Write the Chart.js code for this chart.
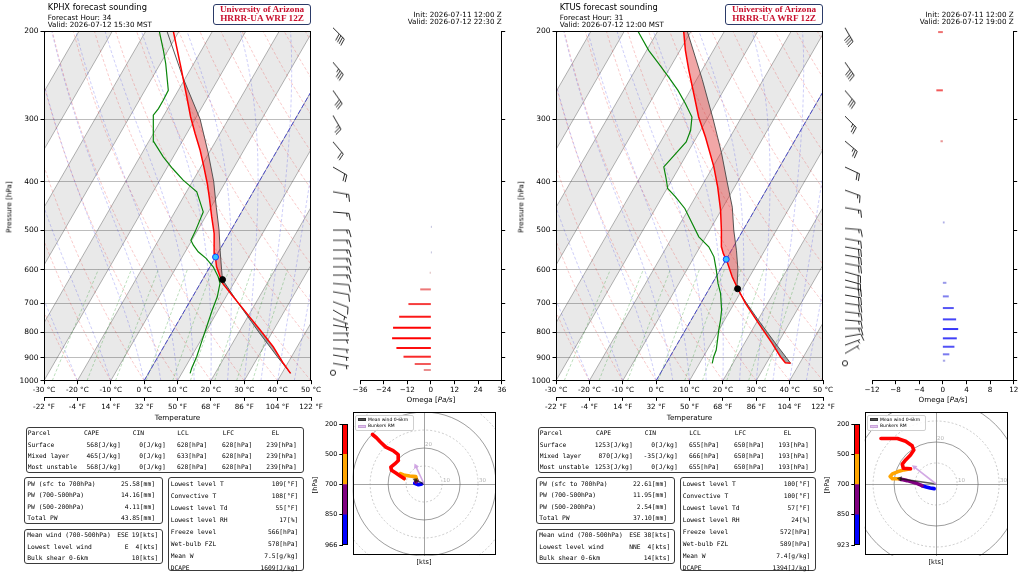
<!DOCTYPE html>
<html>
<head>
<meta charset="utf-8">
<title>HRRR-UA forecast soundings KPHX / KTUS</title>
<script src="https://cdn.jsdelivr.net/npm/chart.js@4.4.1/dist/chart.umd.min.js"></script>
<style>
  body { margin: 0; width: 1024px; height: 572px; overflow: hidden; position: relative; background: #fff; font-family: "DejaVu Sans", sans-serif; }
  canvas { position: absolute; }
  .t { position: absolute; white-space: pre; line-height: 1; color: #000; }
  .box { position: absolute; box-sizing: border-box; border: 1.2px solid #3a3a3a; border-radius: 3px; }
</style>
</head>
<body>
<script>
// shared axis values
const SKEW = 37.6; // lean of the isotherms, degC per ln(1000/p)
const pressureTicks = [200, 300, 400, 500, 600, 700, 800, 900, 1000];
const tempTicksC = [-30, -20, -10, 0, 10, 20, 30, 40, 50];
const hodoRings = [10, 20, 30, 40, 50];
const parcelHeader = ['CAPE', 'CIN', 'LCL', 'LFC', 'EL'];

// ---------- KPHX ----------
const phxHeader = ['KPHX forecast sounding', 'Forecast Hour: 34', 'Valid: 2026-07-12 15:30 MST', 'Init: 2026-07-11 12:00 Z', 'Valid: 2026-07-12 22:30 Z'];
const phxTempP = [966.6, 923.1, 855.3, 792.1, 733.5, 679.7, 639, 619.9, 592.1, 556.7, 507.8, 470.5, 429.1, 403.5, 373.8, 346.2, 320.6, 297.1, 271, 239.7, 200.3];
const phxTempC = [42.6, 38.7, 32.8, 26.0, 19.1, 12.2, 6.7, 4.8, 2.0, -0.8, -4.5, -8.1, -12.3, -15.2, -19.1, -23.1, -27.5, -31.7, -36.3, -42.5, -51.7];
const phxDewP = [966.6, 944.6, 895.5, 842, 780.1, 722.5, 679.7, 639, 619.9, 592.1, 569.6, 552.6, 535.9, 523.7, 504.1, 481.4, 459.8, 439.1, 419.4, 397.4, 376.6, 357, 333.3, 301.6, 294.7, 285.8, 275.1, 262.8, 232.4, 218.6, 200.3];
const phxDewC = [12.5, 12.1, 11.6, 10.6, 9.4, 8.2, 7.4, 5.9, 4.2, 1.0, -2.6, -6.1, -8.7, -10.3, -10.5, -11.0, -11.5, -14.2, -16.9, -23.0, -28.2, -33.0, -38.4, -42.3, -43.2, -42.8, -42.8, -43.0, -48.4, -51.4, -55.9];
const phxParcelP = [966.6, 900, 800, 700, 628, 600, 550, 500, 450, 400, 350, 300, 248.7, 200];
const phxParcelC = [42.6, 36.2, 26.0, 14.8, 6.0, 4.0, 0.3, -3.6, -8.4, -13.6, -20.3, -28.5, -40.6, -53.7];
const phxLcl = [628, 6.0];      // hPa, degC
const phxFrz = [566, 0];
const phxCapeTop = 248.7;
const phxWindP = [197, 231, 263, 295, 333, 374, 419, 460, 500, 524, 548, 570, 592, 615, 639, 664, 695, 722, 751, 774, 804, 829, 862, 888, 923, 964];
const phxWindDir = [135, 140, 145, 150, 140, 120, 100, 95, 90, 90, 90, 90, 90, 90, 95, 100, 110, 120, 110, 100, 90, 90, 95, 100, 100, 90];
const phxWindKt = [40, 35, 30, 25, 20, 20, 15, 15, 15, 15, 15, 15, 15, 15, 10, 10, 10, 5, 5, 5, 5, 5, 5, 5, 5, 0];
const phxOmegaP = [492.6, 554.1, 608.6, 656.9, 702.8, 745.0, 783.7, 822.9, 860.4, 895.5, 926.1, 952.0];
const phxOmega = [0.6, 0.6, -0.6, -5.4, -11.4, -16.1, -19.2, -19.7, -17.5, -13.9, -8.2, -3.6];
const phxOmegaTicks = [-36, -24, -12, 0, 12, 24, 36];
const phxHodoLim = 39.7;
const phxHodoBlue = [[-1.3, 0], [-3.1, -0.4], [-5.2, 0.4], [-4.6, 1.1]];
const phxHodoPurple = [[-4.6, 1.1], [-3.9, 1.9], [-4.3, 2.6]];
const phxHodoOrange = [[-4.3, 2.6], [-4.6, 4.1], [-8.0, 4.4], [-10.7, 4.8], [-13.1, 5.7], [-12.4, 4.4], [-11.1, 3.0]];
const phxHodoRed = [[-11.1, 3.0], [-13.5, 4.6], [-15.7, 6.1], [-18.1, 7.6], [-18.5, 9.3], [-16.3, 11.1], [-14.3, 13.0], [-14.4, 16.3], [-17.2, 18.5], [-21.3, 20.4], [-24.3, 23.3], [-26.5, 25.6], [-28.7, 27.4]];
const phxMeanWind = [-4.8, 2.2];
const phxBunkersRM = [-4.6, 9.8];
const phxBarLabels = [966, 850, 700, 500, 200];
const phxParcelRows = [
  ['Surface', '568[J/kg]', '0[J/kg]', '628[hPa]', '628[hPa]', '239[hPa]'],
  ['Mixed layer', '465[J/kg]', '0[J/kg]', '633[hPa]', '628[hPa]', '239[hPa]'],
  ['Most unstable', '568[J/kg]', '0[J/kg]', '628[hPa]', '628[hPa]', '239[hPa]']];
const phxPwRows = [['PW (sfc to 700hPa)', '25.58[mm]'], ['PW (700-500hPa)', '14.16[mm]'], ['PW (500-200hPa)', '4.11[mm]'], ['Total PW', '43.85[mm]']];
const phxWindRows = [['Mean wind (700-500hPa)', 'ESE', '19[kts]'], ['Lowest level wind', 'E', '4[kts]'], ['Bulk shear 0-6km', '', '10[kts]']];
const phxThermoRows = [['Lowest level T', '109[°F]'], ['Convective T', '108[°F]'], ['Lowest level Td', '55[°F]'], ['Lowest level RH', '17[%]'],
  ['Freeze level', '566[hPa]'], ['Wet-bulb FZL', '578[hPa]'], ['Mean W', '7.5[g/kg]'], ['DCAPE', '1609[J/kg]']];

// ---------- KTUS ----------
const tusHeader = ['KTUS forecast sounding', 'Forecast Hour: 31', 'Valid: 2026-07-12 12:00 MST', 'Init: 2026-07-11 12:00 Z', 'Valid: 2026-07-12 19:00 Z'];
const tusTempP = [923.1, 920.6, 895.5, 842, 768.1, 700.5, 655.1, 619.9, 578.6, 556.7, 540, 500.1, 456.2, 409.8, 373.8, 325.7, 297.1, 266.8, 239.7, 218.6, 200.3];
const tusTempC = [37.3, 35.6, 33.1, 28.3, 20.8, 13.4, 8.6, 4.8, 0.7, -1.9, -3.6, -6.5, -10.2, -15.1, -19.7, -27.4, -32.9, -38.4, -43.9, -48.4, -52.2];
const tusDewP = [923.1, 895.5, 868.3, 842, 792.1, 756.5, 722.5, 669.1, 639, 601.1, 565.5, 540, 515.8, 484.9, 452.7, 429.1, 412.9, 394.3, 373.8, 333.3, 315.8, 297.1, 279.3, 262.8, 247.2, 232.4, 218.6, 200.3];
const tusDewC = [13.8, 13.1, 12.7, 11.8, 10.0, 8.8, 7.4, 4.2, 1.7, -1.1, -4.1, -7.4, -12.1, -16.4, -21.2, -26.0, -29.8, -32.0, -34.7, -32.3, -33.0, -34.9, -39.2, -43.7, -48.8, -54.1, -59.4, -65.9];
const tusParcelP = [923.1, 900, 850, 800, 750, 700, 655, 600, 550, 500, 450, 400, 350, 300, 250, 200];
const tusParcelC = [37.3, 35.1, 30.1, 24.9, 19.4, 13.7, 8.3, 5.3, 1.6, -2.8, -7.2, -13.2, -19.9, -28.2, -38.3, -51.2];
const tusLcl = [655, 8.5];
const tusFrz = [572, 0];
const tusCapeTop = 200;
const tusWindP = [197, 231, 263, 296, 332, 374, 416, 451, 496, 520, 540, 561, 583, 606, 629, 649, 674, 700, 728, 756, 786, 817, 849, 882, 923];
const tusWindDir = [150, 145, 140, 135, 130, 115, 110, 100, 95, 100, 100, 100, 100, 105, 105, 100, 100, 98, 97, 95, 90, 80, 70, 60, 25];
const tusWindKt = [40, 40, 30, 25, 25, 20, 15, 15, 15, 15, 20, 20, 20, 20, 20, 20, 20, 20, 15, 15, 15, 10, 5, 5, 0];
const tusOmegaP = [201, 262.8, 332.2, 482.7, 637.3, 678.4, 715.8, 754.1, 788.4, 822.9, 855.3, 885.7, 912.1];
const tusOmega = [-0.8, -1.1, -0.4, 0.3, 0.6, 1.0, 1.85, 2.25, 2.6, 2.36, 1.96, 1.1, 0.4];
const tusOmegaTicks = [-12, -8, -4, 0, 4, 8, 12];
const tusHodoLim = 34.0;
const tusHodoBlue = [[-0.9, -2.2], [-2.8, -1.9], [-4.7, -1.4], [-6.7, -0.8]];
const tusHodoPurple = [[-6.7, -0.8], [-9.8, 0.5], [-13.75, 1.6], [-17.7, 2.5]];
const tusHodoOrange = [[-17.7, 2.5], [-20.8, 2.5], [-21.9, 3.6], [-20.8, 4.8], [-18.1, 5.9], [-15.3, 6.7], [-12.2, 7.2]];
const tusHodoRed = [[-12.2, 7.2], [-15.6, 7.5], [-16.1, 9.4], [-14.5, 11.4], [-12.2, 13.75], [-10.6, 16.1], [-11.4, 18.1], [-14.5, 20.3], [-18.4, 21.6], [-26.25, 21.6]];
const tusMeanWind = [-17.2, 2.5];
const tusBunkersRM = [-10.3, 8.0];
const tusBarLabels = [923, 850, 700, 500, 200];
const tusParcelRows = [
  ['Surface', '1253[J/kg]', '0[J/kg]', '655[hPa]', '650[hPa]', '193[hPa]'],
  ['Mixed layer', '870[J/kg]', '-35[J/kg]', '666[hPa]', '650[hPa]', '193[hPa]'],
  ['Most unstable', '1253[J/kg]', '0[J/kg]', '655[hPa]', '650[hPa]', '193[hPa]']];
const tusPwRows = [['PW (sfc to 700hPa)', '22.61[mm]'], ['PW (700-500hPa)', '11.95[mm]'], ['PW (500-200hPa)', '2.54[mm]'], ['Total PW', '37.10[mm]']];
const tusWindRows = [['Mean wind (700-500hPa)', 'ESE', '38[kts]'], ['Lowest level wind', 'NNE', '4[kts]'], ['Bulk shear 0-6km', '', '14[kts]']];
const tusThermoRows = [['Lowest level T', '100[°F]'], ['Convective T', '100[°F]'], ['Lowest level Td', '57[°F]'], ['Lowest level RH', '24[%]'],
  ['Freeze level', '572[hPa]'], ['Wet-bulb FZL', '589[hPa]'], ['Mean W', '7.4[g/kg]'], ['DCAPE', '1394[J/kg]']];

const stations = [
  { off: 0, header: phxHeader, tempP: phxTempP, tempC: phxTempC, dewP: phxDewP, dewC: phxDewC, parcelP: phxParcelP, parcelC: phxParcelC,
    lcl: phxLcl, frz: phxFrz, capeTop: phxCapeTop, windP: phxWindP, windDir: phxWindDir, windKt: phxWindKt,
    omegaP: phxOmegaP, omega: phxOmega, omegaTicks: phxOmegaTicks, hodoLim: phxHodoLim,
    hodo: [phxHodoBlue, phxHodoPurple, phxHodoOrange, phxHodoRed], meanWind: phxMeanWind, bunkers: phxBunkersRM, barLabels: phxBarLabels,
    parcelRows: phxParcelRows, pwRows: phxPwRows, windRows: phxWindRows, thermoRows: phxThermoRows },
  { off: 512, header: tusHeader, tempP: tusTempP, tempC: tusTempC, dewP: tusDewP, dewC: tusDewC, parcelP: tusParcelP, parcelC: tusParcelC,
    lcl: tusLcl, frz: tusFrz, capeTop: tusCapeTop, windP: tusWindP, windDir: tusWindDir, windKt: tusWindKt,
    omegaP: tusOmegaP, omega: tusOmega, omegaTicks: tusOmegaTicks, hodoLim: tusHodoLim,
    hodo: [tusHodoBlue, tusHodoPurple, tusHodoOrange, tusHodoRed], meanWind: tusMeanWind, bunkers: tusBunkersRM, barLabels: tusBarLabels,
    parcelRows: tusParcelRows, pwRows: tusPwRows, windRows: tusWindRows, thermoRows: tusThermoRows }
];

Chart.defaults.font.family = '"DejaVu Sans", sans-serif';
Chart.defaults.font.size = 7.2;
Chart.defaults.color = '#000';
Chart.defaults.animation = false;
Chart.defaults.events = [];
Chart.defaults.plugins.legend.display = false;
Chart.defaults.plugins.tooltip.enabled = false;

function mkCanvas(x, y, w, h) {
  const c = document.createElement('canvas');
  c.width = w; c.height = h;
  c.style.left = x + 'px'; c.style.top = y + 'px';
  c.style.width = w + 'px'; c.style.height = h + 'px';
  document.body.appendChild(c);
  return c;
}

function txt(x, y, s, o = {}) {
  const d = document.createElement('div');
  d.className = 't';
  if (o.html) d.innerHTML = s; else d.textContent = s;
  d.style.left = x + 'px'; d.style.top = y + 'px';
  d.style.fontSize = (o.size || 7.2) + 'px';
  if (o.font) d.style.fontFamily = o.font;
  if (o.color) d.style.color = o.color;
  if (o.weight) d.style.fontWeight = o.weight;
  const ax = o.align === 'right' ? '-100%' : o.align === 'center' ? '-50%' : '0';
  d.style.transform = `translate(${ax},-50%)` + (o.rot ? ` rotate(${o.rot}deg)` : '');
  document.body.appendChild(d);
  return d;
}
const mono = (x, y, s, align) => txt(x, y, s, { size: 6.3, font: '"DejaVu Sans Mono", monospace', align });

function box(x, y, w, h, extra) {
  const d = document.createElement('div');
  d.className = 'box';
  Object.assign(d.style, { left: x + 'px', top: y + 'px', width: w + 'px', height: h + 'px' }, extra || {});
  document.body.appendChild(d);
  return d;
}

// plot frame around the chart area
const framePlugin = {
  id: 'frame',
  afterDraw(c) {
    const a = c.chartArea, g = c.ctx;
    g.save(); g.strokeStyle = '#000'; g.lineWidth = 1;
    g.strokeRect(Math.round(a.left) + 0.5, Math.round(a.top) + 0.5, Math.round(a.width) - 1, Math.round(a.height) - 1);
    g.restore();
  }
};

// skew-T helpers
function sk(t, p) { return { x: t + SKEW * Math.log(1000 / p), y: p }; }
function profile(ps, ts) { return ps.map((p, i) => sk(ts[i], p)); }

// background reference lines of the diagram
function dryAdiabat(t0) {
  const pts = [];
  for (let p = 1000; p >= 200; p -= 25) pts.push(sk((t0 + 273.15) * Math.pow(p / 1000, 0.2857) - 273.15, p));
  return pts;
}
function moistLapse(T, p) {
  const Rd = 287.04, Cp = 1005.7, Lv = 2.501e6, eps = 0.622;
  const tc = T - 273.15, es = 6.112 * Math.exp(17.67 * tc / (tc + 243.5)), rs = eps * es / (p - es);
  return (1 / p) * (Rd * T + Lv * rs) / (Cp + Lv * Lv * rs * eps / (Rd * T * T));
}
function moistAdiabat(t0) {
  const pts = [];
  let T = t0 + 273.15;
  for (let p = 1000; p >= 200; p -= 5) {
    if (p % 10 === 0) pts.push(sk(T - 273.15, p));
    const k1 = moistLapse(T, p);
    const k2 = moistLapse(T - k1 * 2.5, p - 2.5);
    T -= k2 * 5;
  }
  return pts;
}
function mixingLine(w) {
  return [1000, 900, 800, 700, 600].map(p => {
    const e = p * w / (622 + w), l = Math.log(e / 6.112);
    return sk(243.5 * l / (17.67 - l), p);
  });
}
function areaPolygon(pp, pt, ep, et, pBot, pTop) {
  const up = [], down = [];
  pp.forEach((p, i) => { if (p <= pBot && p >= pTop) up.push(sk(pt[i], p)); });
  ep.forEach((p, i) => { if (p < pBot && p > pTop) down.push(sk(et[i], p)); });
  return up.concat(down.reverse());
}

const line = (pts, color, w, dash, order) => ({ data: pts, showLine: true, borderColor: color, borderWidth: w, borderDash: dash,
  pointRadius: 0, fill: false, order, clip: 0 });
const shape = (pts, color, order) => ({ data: pts, showLine: true, fill: 'shape', backgroundColor: color, borderWidth: 0,
  borderColor: 'rgba(0,0,0,0)', pointRadius: 0, order, clip: 0 });

function skewChart(st) {
  const cv = mkCanvas(st.off, 0, 330, 420);
  const ds = [];
  // shaded bands between every other pair of isotherms (0..10 degC is shaded)
  for (let t = -120; t <= 40; t += 20) ds.push(shape([sk(t, 1000), sk(t, 200), sk(t + 10, 200), sk(t + 10, 1000)], 'rgba(0,0,0,0.085)', 50));
  for (let t = -110; t <= 60; t += 10) ds.push(line([sk(t, 1000), sk(t, 200)], 'rgba(80,80,80,0.55)', 0.8, [], 45));
  for (let t = -40; t <= 160; t += 10) ds.push(line(dryAdiabat(t), 'rgba(230,40,40,0.35)', 0.7, [3, 2], 44));
  [-30, -20, -10, 0, 5, 10, 15, 20, 25, 30, 35, 40, 45, 50, 55, 60].forEach(t => ds.push(line(moistAdiabat(t), 'rgba(40,40,230,0.33)', 0.7, [3, 2], 43)));
  [0.4, 1, 2, 4, 7, 10, 16, 24, 32].forEach(w => ds.push(line(mixingLine(w), 'rgba(20,140,20,0.4)', 0.7, [3, 2], 42)));
  ds.push(line([sk(0, 1000), sk(0, 200)], 'rgba(40,40,210,0.75)', 1, [5, 2], 41));
  ds.push(shape(areaPolygon(st.parcelP, st.parcelC, st.tempP, st.tempC, st.lcl[0], st.capeTop), 'rgba(225,60,60,0.45)', 11));
  ds.push(shape(areaPolygon(st.parcelP, st.parcelC, st.tempP, st.tempC, st.parcelP[0], st.lcl[0]), 'rgba(80,80,80,0.5)', 12));
  ds.push(line(profile(st.parcelP, st.parcelC), 'rgba(70,70,70,0.9)', 1, [], 5));
  ds.push(line(profile(st.dewP, st.dewC), '#0a860a', 1.2, [], 4));
  ds.push(line(profile(st.tempP, st.tempC), '#ff0000', 1.5, [], 3));
  ds.push({ data: [sk(st.lcl[1], st.lcl[0])], pointRadius: 3, pointBackgroundColor: '#000', pointBorderColor: '#000', order: 1, clip: false });
  ds.push({ data: [sk(st.frz[1], st.frz[0])], pointRadius: 3, pointBackgroundColor: '#2fc4ff', pointBorderColor: '#1c3cff',
    pointBorderWidth: 1, order: 0, clip: false });

  const tickSet = s => { s.ticks = tempTicksC.map(v => ({ value: v })); };
  new Chart(cv, {
    type: 'scatter',
    data: { datasets: ds },
    options: {
      responsive: false,
      layout: { padding: { left: 0, top: 31, right: 19, bottom: 0 } },
      scales: {
        x: { type: 'linear', min: -30, max: 50, weight: 0, afterBuildTicks: tickSet,
          ticks: { callback: v => v + ' °C', maxRotation: 0, autoSkip: false, padding: 1.5 },
          grid: { drawOnChartArea: false, tickLength: 3.5, color: '#000' }, border: { color: '#000' },
          afterFit: s => { s.height = 16.6; } },
        xF: { type: 'linear', position: 'bottom', min: -30, max: 50, weight: 1, afterBuildTicks: tickSet,
          ticks: { callback: v => Math.round(v * 1.8 + 32) + ' °F', maxRotation: 0, autoSkip: false, padding: 2.5 },
          grid: { drawOnChartArea: false, tickLength: 3.5, color: '#000' }, border: { color: '#000' },
          afterFit: s => { s.height = 22.7; } },
        y: { type: 'logarithmic', min: 200, max: 1000, reverse: true,
          afterBuildTicks: s => { s.ticks = pressureTicks.map(v => ({ value: v })); },
          ticks: { callback: v => String(v), autoSkip: false, padding: 2, font: { size: 7.5 } },
          grid: { color: '#bdbdbd', lineWidth: 1, tickLength: 3.5, tickColor: '#000' }, border: { color: '#000' },
          afterFit: s => { s.width = 44; } }
      }
    },
    plugins: [framePlugin]
  });
}

function omegaColor(v, maxAbs) {
  const t = Math.pow(Math.min(1, Math.abs(v) / maxAbs), 0.6);
  const base = [222, 222, 222], tgt = v < 0 ? [255, 0, 0] : [55, 55, 250];
  return 'rgb(' + base.map((b, i) => Math.round(b + (tgt[i] - b) * t)).join(',') + ')';
}

function omegaChart(st) {
  const cv = mkCanvas(340 + st.off, 0, 172, 420);
  const maxAbs = Math.max(...st.omega.map(Math.abs));
  const ds = st.omegaP.map((p, i) => ({ data: [{ x: 0, y: p }, { x: st.omega[i], y: p }], showLine: true,
    borderColor: omegaColor(st.omega[i], maxAbs), borderWidth: 2, pointRadius: 0, clip: false }));
  const tk = st.omegaTicks;
  new Chart(cv, {
    type: 'scatter',
    data: { datasets: ds },
    options: {
      responsive: false,
      layout: { padding: { left: 20, top: 31, right: 0, bottom: 0 } },
      scales: {
        x: { type: 'linear', min: tk[0], max: tk[tk.length - 1],
          afterBuildTicks: s => { s.ticks = tk.map(v => ({ value: v })); },
          ticks: { callback: v => (v < 0 ? '\u2212' + Math.abs(v) : String(v)), maxRotation: 0, autoSkip: false, padding: 1.5 },
          grid: { drawOnChartArea: false, tickLength: 3.5, color: '#000' }, border: { color: '#000' },
          afterFit: s => { s.height = 39.3; } },
        y: { type: 'logarithmic', position: 'right', min: 200, max: 1000, reverse: true,
          afterBuildTicks: s => { s.ticks = pressureTicks.map(v => ({ value: v })); },
          ticks: { display: false }, grid: { drawOnChartArea: false, tickLength: 3.5, color: '#000' }, border: { color: '#000' },
          afterFit: s => { s.width = 10.3; } }
      }
    }
  });
  txt(431 + st.off, 400, 'Omega [<i>Pa/s</i>]', { html: true, align: 'center' });
}

function barbImage(dir, kt) {
  const c = document.createElement('canvas');
  c.width = 64; c.height = 64;
  const g = c.getContext('2d');
  g.translate(32, 32);
  g.strokeStyle = '#111'; g.lineWidth = 0.9;
  g.beginPath();
  if (kt < 2.5) { g.arc(0, 0, 2.6, 0, 2 * Math.PI); g.stroke(); return c; }
  const r = dir * Math.PI / 180, ux = Math.sin(r), uy = -Math.cos(r);
  const px = -uy, py = ux;
  const L = 16, full = 7, gap = 2.4;
  g.moveTo(0, 0); g.lineTo(ux * L, uy * L);
  const n10 = Math.floor(kt / 10), n5 = kt % 10 >= 5 ? 1 : 0;
  let pos = n10 === 0 ? L - gap : L;
  for (let i = 0; i < n10; i++) {
    g.moveTo(ux * pos, uy * pos);
    g.lineTo(ux * pos + px * full + ux * 2, uy * pos + py * full + uy * 2);
    pos -= gap;
  }
  if (n5) {
    g.moveTo(ux * pos, uy * pos);
    g.lineTo(ux * pos + (px * full + ux * 2) / 2, uy * pos + (py * full + uy * 2) / 2);
  }
  g.stroke();
  return c;
}

function barbChart(st) {
  const cv = mkCanvas(300 + st.off, 0, 66, 420);
  const imgs = st.windP.map((p, i) => barbImage(st.windDir[i], st.windKt[i]));
  new Chart(cv, {
    type: 'scatter',
    data: { datasets: [{ data: st.windP.map(p => ({ x: 0, y: p })), pointStyle: imgs, pointRadius: 12, clip: false }] },
    options: {
      responsive: false,
      layout: { padding: { left: 0, right: 0, top: 31, bottom: 39.3 } },
      scales: { x: { display: false, min: -1, max: 1 }, y: { display: false, type: 'logarithmic', min: 200, max: 1000, reverse: true } }
    }
  });
}

const ringPlugin = {
  id: 'rings',
  beforeDatasetsDraw(c) {
    const xs = c.scales.x, a = c.chartArea, g = c.ctx;
    const cx = xs.getPixelForValue(0), cy = c.scales.y.getPixelForValue(0);
    g.save();
    g.beginPath(); g.rect(a.left, a.top, a.width, a.height); g.clip();
    hodoRings.forEach(r => {
      const rad = xs.getPixelForValue(r) - cx;
      g.beginPath();
      const solid = r % 20 === 0;
      g.setLineDash(solid ? [] : [2, 2]);
      g.strokeStyle = solid ? 'rgba(110,110,110,0.85)' : 'rgba(150,150,150,0.6)';
      g.lineWidth = 0.8;
      g.arc(cx, cy, rad, 0, 2 * Math.PI);
      g.stroke();
    });
    g.fillStyle = '#b4b4b4'; g.font = '5.5px "DejaVu Sans"'; g.textBaseline = 'bottom';
    [10, 30].forEach(r => g.fillText(String(r), xs.getPixelForValue(r) + 1, cy - 0.5));
    g.fillText('20', cx + 1, cy - (xs.getPixelForValue(20) - cx) - 0.5);
    g.restore();
  }
};

function hodoChart(st) {
  const cv = mkCanvas(345 + st.off, 405, 160, 160);
  const lim = st.hodoLim;
  const colors = ['#0000ff', '#800080', '#ffa500', '#ff0000'];
  const ds = st.hodo.map((pts, i) => ({ data: pts.map(([u, v]) => ({ x: u, y: v })), showLine: true, borderColor: colors[i],
    borderWidth: 3.6, borderCapStyle: 'round', borderJoinStyle: 'round', pointRadius: 0, order: 4 - i }));
  const arrow = ([u, v], color) => ({ data: [{ x: 0, y: 0 }, { x: u, y: v }], showLine: true, borderColor: color, borderWidth: 1.6,
    pointRadius: [0, 3.2], pointStyle: 'triangle', pointRotation: Math.atan2(u, v) * 180 / Math.PI,
    pointBackgroundColor: color, pointBorderWidth: 0, order: 0 });
  ds.push(arrow(st.bunkers, 'rgba(205,160,225,0.9)'));
  ds.push(arrow(st.meanWind, 'rgba(20,20,20,0.7)'));
  const axis = fit => ({ type: 'linear', min: -lim, max: lim, afterBuildTicks: s => { s.ticks = [{ value: 0 }]; },
    ticks: { display: false }, grid: { color: 'rgba(110,110,110,0.8)', lineWidth: 0.8, drawTicks: false },
    border: { display: false }, afterFit: fit });
  new Chart(cv, {
    type: 'scatter',
    data: { datasets: ds },
    options: {
      responsive: false,
      layout: { padding: { left: 7.7, top: 7.3, right: 9.5, bottom: 9.3 } },
      scales: { x: axis(s => { s.height = 0; }), y: axis(s => { s.width = 0; }) }
    },
    plugins: [ringPlugin, framePlugin]
  });
  txt(424 + st.off, 562.3, '[kts]', { size: 6.6, align: 'center' });

  // legend inside the hodograph
  const o = st.off;
  box(355 + o, 415, 59, 16, { border: '0.6px solid #cfcfcf', borderRadius: '2px', background: 'rgba(255,255,255,0.85)' });
  box(357.5 + o, 418.1, 8, 3.4, { border: '0.5px solid #333', borderRadius: '0', background: '#555' });
  box(357.5 + o, 424.6, 8, 3.4, { border: '0.5px solid #c9a3d9', borderRadius: '0', background: '#e2c4ee' });
  txt(368 + o, 419.8, 'Mean wind 0-6km', { size: 4.5 });
  txt(368 + o, 426.3, 'Bunkers RM', { size: 4.5 });
}

function colorbarChart(st) {
  const cv = mkCanvas(310 + st.off, 418, 38, 135);
  const colors = ['#0000ff', '#800080', '#ffa500', '#ff0000'];
  new Chart(cv, {
    type: 'bar',
    data: { labels: [''], datasets: colors.map(c => ({ data: [1], backgroundColor: c, stack: 's', barPercentage: 1, categoryPercentage: 1, borderWidth: 0 })) },
    options: {
      responsive: false,
      layout: { padding: { top: 6, bottom: 8, left: 0, right: 0 } },
      scales: {
        x: { display: false, stacked: true },
        y: { stacked: true, min: 0, max: 4, afterBuildTicks: s => { s.ticks = [0, 1, 2, 3, 4].map(v => ({ value: v })); },
          ticks: { callback: v => String(st.barLabels[v]), font: { size: 6.5 }, padding: 2 },
          grid: { drawOnChartArea: false, tickLength: 3, color: '#000' }, border: { color: '#000' },
          afterFit: s => { s.width = 32.3; } }
      }
    },
    plugins: [framePlugin]
  });
  txt(315 + st.off, 484.5, '[hPa]', { size: 6.5, align: 'center', rot: -90 });
}

function headers(st) {
  const o = st.off, h = st.header;
  txt(47.7 + o, 7.3, h[0], { size: 8.3 });
  txt(47.7 + o, 18, h[1], { size: 7.2 });
  txt(47.7 + o, 25.3, h[2], { size: 7.2 });
  txt(501.7 + o, 15, h[3], { size: 7.2, align: 'right' });
  txt(501.7 + o, 22.4, h[4], { size: 7.2, align: 'right' });
  box(213.3 + o, 4, 97.4, 21.4, { border: '1.5px solid #2b3a67', borderRadius: '3px' });
  const serif = '"Liberation Serif", "DejaVu Serif", serif';
  txt(262 + o, 9.8, 'University of Arizona', { size: 9.2, font: serif, weight: 'bold', color: '#c8102e', align: 'center' });
  txt(262 + o, 19, 'HRRR-UA WRF 12Z', { size: 9.2, font: serif, weight: 'bold', color: '#c8102e', align: 'center' });
  txt(9.3 + o, 206.7, 'Pressure [hPa]', { size: 7.2, align: 'center', rot: -90 });
  txt(177.5 + o, 418, 'Temperature', { size: 7.2, align: 'center' });
}

function tables(st) {
  const o = st.off;
  box(25.7 + o, 427.3, 278.3, 45.6);
  const hdrX = [84, 132.7, 177.3, 222.7, 271.7], valX = [120.7, 165.7, 207.3, 252.3, 296.7];
  mono(27.7 + o, 433.3, 'Parcel');
  parcelHeader.forEach((h, i) => mono(hdrX[i] + o, 433.3, h));
  st.parcelRows.forEach((r, j) => {
    const y = 444.7 + j * 11.3;
    mono(27.7 + o, y, r[0]);
    r.slice(1).forEach((v, i) => mono(valX[i] + o, y, v, 'right'));
  });
  box(24 + o, 477, 138.7, 46.7);
  st.pwRows.forEach((r, j) => { const y = 484.3 + j * 11.1; mono(27.3 + o, y, r[0]); mono(155 + o, y, r[1], 'right'); });
  box(24 + o, 529.3, 138.7, 35);
  st.windRows.forEach((r, j) => {
    const y = 535.3 + j * 11.4;
    mono(27.3 + o, y, r[0]); mono(128.5 + o, y, r[1], 'right'); mono(158.3 + o, y, r[2], 'right');
  });
  box(167.7 + o, 477, 136.6, 94.3);
  st.thermoRows.forEach((r, j) => { const y = 484.3 + j * 11.9; mono(170.7 + o, y, r[0]); mono(298.3 + o, y, r[1], 'right'); });
}

stations.forEach(st => {
  skewChart(st);
  barbChart(st);
  omegaChart(st);
  colorbarChart(st);
  hodoChart(st);
  headers(st);
  tables(st);
});
</script>
</body>
</html>
